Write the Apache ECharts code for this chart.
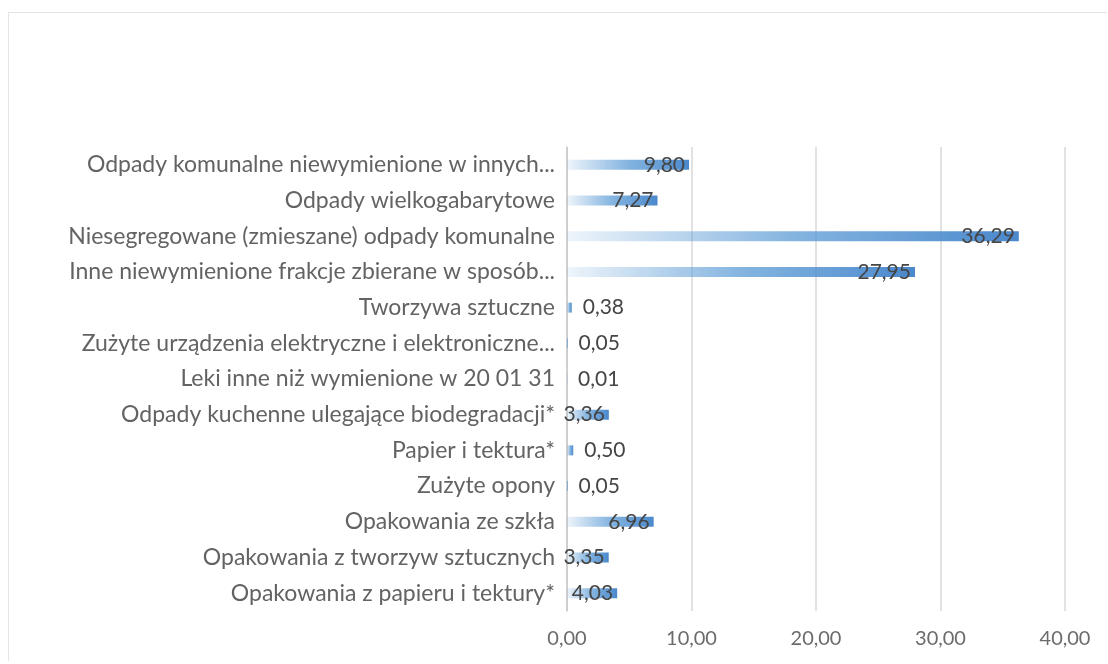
<!DOCTYPE html>
<html>
<head>
<meta charset="utf-8">
<script src="https://cdn.jsdelivr.net/npm/echarts@6/dist/echarts.min.js"></script>
<style>
  html, body { margin: 0; padding: 0; background: #fff; }
  #frame { position: absolute; left: 8px; top: 12px; width: 1098px; height: 648px; border-left: 1px solid #e4e4e4; border-top: 1px solid #e4e4e4; }
  #main { position: absolute; left: 0; top: 0; width: 1108px; height: 664px; }
</style>
</head>
<body>
<div id="frame"></div>
<div id="main"></div>
<script>
// kategorie (od góry)
var categories = [
  'Odpady komunalne niewymienione w innych...',
  'Odpady wielkogabarytowe',
  'Niesegregowane (zmieszane) odpady komunalne',
  'Inne niewymienione frakcje zbierane w sposób...',
  'Tworzywa sztuczne',
  'Zużyte urządzenia elektryczne i elektroniczne...',
  'Leki inne niż wymienione w 20 01 31',
  'Odpady kuchenne ulegające biodegradacji*',
  'Papier i tektura*',
  'Zużyte opony',
  'Opakowania ze szkła',
  'Opakowania z tworzyw sztucznych',
  'Opakowania z papieru i tektury*'
];
// wartości
var values = [9.80, 7.27, 36.29, 27.95, 0.38, 0.05, 0.01, 3.36, 0.50, 0.05, 6.96, 3.35, 4.03];
// oś X
var xTicks = [0, 10, 20, 30, 40];

function fmt(v) { return Number(v).toFixed(2).replace('.', ','); }

var font = 'Lato, "Open Sans", sans-serif';

var seriesData = [];
for (var i = 0; i < values.length; i++) {
  var small = values[i] < 1;
  seriesData.push({
    value: values[i],
    label: {
      position: small ? 'right' : 'insideRight',
      distance: small ? 11 : 4
    }
  });
}

var myChart = echarts.init(document.getElementById('main'));
var option = {
  animation: false,
  grid: { left: 567, right: 43, top: 147, bottom: 53 },
  xAxis: {
    type: 'value',
    min: xTicks[0],
    max: xTicks[xTicks.length - 1],
    interval: 10,
    axisLine: { show: false },
    axisTick: { show: false },
    splitLine: { lineStyle: { color: '#d9d9d9', width: 1.5 } },
    axisLabel: { formatter: fmt, color: '#6b6b6b', fontSize: 20, fontFamily: font, margin: 18 }
  },
  yAxis: {
    type: 'category',
    data: categories,
    inverse: true,
    axisLine: { lineStyle: { color: '#c8c8c8', width: 1.5 } },
    axisTick: { show: false },
    axisLabel: { color: '#636363', fontSize: 23, fontFamily: font, margin: 12 }
  },
  series: [{
    type: 'bar',
    data: seriesData,
    barWidth: 10,
    itemStyle: {
      color: new echarts.graphic.LinearGradient(0, 0, 1, 0, [
        { offset: 0, color: 'rgba(91,155,213,0.1)' },
        { offset: 0.5, color: 'rgba(91,155,213,0.75)' },
        { offset: 1, color: '#4a88cc' }
      ])
    },
    label: {
      show: true,
      formatter: function (p) { return fmt(p.value); },
      color: '#454545',
      fontSize: 21,
      fontFamily: font
    }
  }]
};
myChart.setOption(option);
</script>
</body>
</html>
